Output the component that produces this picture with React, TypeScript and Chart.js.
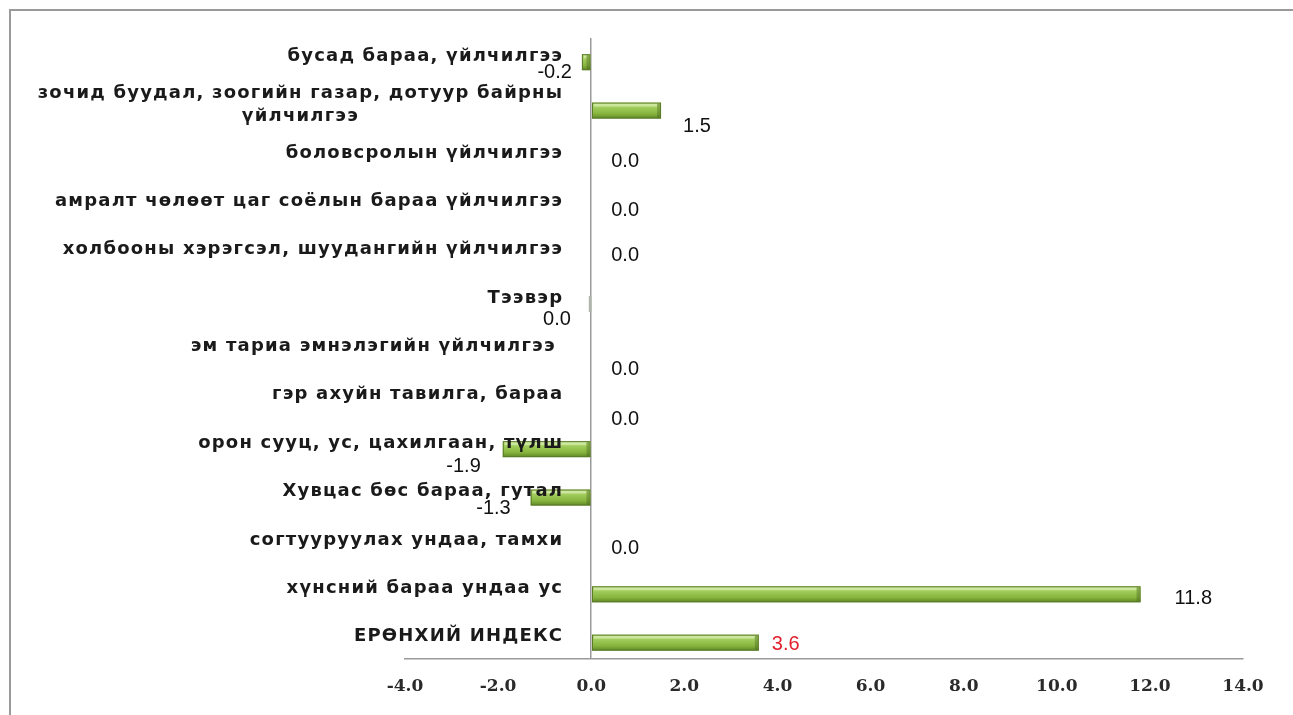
import React, { useEffect, useRef } from "react";
import { Chart, registerables } from "chart.js";

Chart.register(...registerables);

// ---- data ----
const categories: string[][] = [
  ["бусад бараа, үйлчилгээ"],
  ["зочид буудал, зоогийн газар, дотуур байрны", "үйлчилгээ"],
  ["боловсролын үйлчилгээ"],
  ["амралт чөлөөт цаг соёлын бараа үйлчилгээ"],
  ["холбооны хэрэгсэл, шуудангийн үйлчилгээ"],
  ["Тээвэр"],
  ["эм тариа эмнэлэгийн үйлчилгээ "],
  ["гэр ахуйн тавилга, бараа"],
  ["орон сууц, ус, цахилгаан, түлш"],
  ["Хувцас бөс бараа, гутал"],
  ["согтууруулах ундаа, тамхи"],
  ["хүнсний бараа ундаа ус"],
  ["ЕРӨНХИЙ ИНДЕКС"],
];
const values: number[] = [-0.2, 1.5, 0.0, 0.0, 0.0, -0.03, 0.0, -0.02, -1.9, -1.3, 0.0, 11.8, 3.6];
const xTickValues: number[] = [-4, -2, 0, 2, 4, 6, 8, 10, 12, 14];
const highlightIndex = 12;

// label placement tweaks (style only): [dx from bar end, dy from bar centre]
const valueLabelNudge: [number, number][] = [
  [-10, 10], [22, 16], [20, 3], [20, 3], [20, 0], [-19, 15], [20, 17],
  [21, 19], [-22, 17], [-20, 11], [20, 3], [34, 4], [13, 2],
];

const fmt = (v: number) => {
  const s = v.toFixed(1);
  return s === "-0.0" ? "0.0" : s;
};

const framePlugin = {
  id: "frame",
  beforeDraw(chart: any) {
    const ctx = chart.ctx;
    ctx.save();
    ctx.fillStyle = "#ffffff";
    ctx.fillRect(0, 0, chart.width, chart.height);
    ctx.strokeStyle = "#9a9a9a";
    ctx.lineWidth = 2;
    ctx.strokeRect(10, 10, chart.width + 20, chart.height + 20);
    ctx.restore();
  },
};

const barStylePlugin = {
  id: "barStyle",
  afterDatasetsDraw(chart: any) {
    const ctx = chart.ctx;
    const meta = chart.getDatasetMeta(0);
    ctx.save();
    meta.data.forEach((el: any) => {
      const { x, y, base, height } = el.getProps(["x", "y", "base", "height"], true);
      const left = Math.min(x, base);
      const right = Math.max(x, base);
      const top = y - height / 2;
      const w = right - left;
      if (w < 0.5) return;
      if (w < 4) {
        ctx.fillStyle = "#b0b4a8";
        ctx.fillRect(left - 1, top, w + 2, height);
        return;
      }
      const g = ctx.createLinearGradient(0, top, 0, top + height);
      g.addColorStop(0, "#b9db7a");
      g.addColorStop(0.3, "#a2cd5c");
      g.addColorStop(0.7, "#86b53e");
      g.addColorStop(1, "#5f8726");
      ctx.fillStyle = g;
      ctx.fillRect(left, top, w, height);
      ctx.fillStyle = "rgba(230,245,200,0.55)";
      ctx.fillRect(left + 2, top + 1, Math.max(0, w - 6), 3);
      ctx.fillStyle = "rgba(60,90,20,0.35)";
      ctx.fillRect(right - 4, top + 1, 3, height - 2);
      ctx.strokeStyle = "#5a7a2a";
      ctx.lineWidth = 1;
      ctx.strokeRect(left + 0.5, top + 0.5, w - 1, height - 1);
    });
    ctx.restore();
  },
};

const labelPlugin = {
  id: "labels",
  afterDraw(chart: any) {
    const ctx = chart.ctx;
    const xs = chart.scales.x;
    const ys = chart.scales.y;
    const zero = xs.getPixelForValue(0);
    ctx.save();
    ctx.font = "bold 18px 'DejaVu Sans'";
    (ctx as any).letterSpacing = "1.2px";
    ctx.fillStyle = "#1a1a1a";
    ctx.textBaseline = "middle";
    ctx.textAlign = "center";
    const lineH = 23;
    categories.forEach((lines, i) => {
      const cy = ys.getPixelForValue(i) - 6;
      const widest = Math.max(...lines.map((l) => ctx.measureText(l).width));
      const cx = zero - 28 - widest / 2;
      const y0 = cy - ((lines.length - 1) * lineH) / 2;
      lines.forEach((l, k) => ctx.fillText(l, cx, y0 + k * lineH));
    });
    (ctx as any).letterSpacing = "0px";
    ctx.font = "20px 'Liberation Sans'";
    values.forEach((v, i) => {
      const end = xs.getPixelForValue(v);
      const cy = ys.getPixelForValue(i);
      const [dx, dy] = valueLabelNudge[i];
      ctx.textAlign = dx >= 0 ? "left" : "right";
      ctx.fillStyle = i === highlightIndex ? "#e2202c" : "#111111";
      ctx.fillText(fmt(v), end + dx, cy + dy);
    });
    ctx.restore();
  },
};

export default function App() {
  const ref = useRef<HTMLCanvasElement | null>(null);
  useEffect(() => {
    if (!ref.current) return;
    const chart = new Chart(ref.current, {
      type: "bar",
      data: {
        datasets: [
          {
            data: values.map((v, i) => ({ x: v, y: i })),
            backgroundColor: "rgba(0,0,0,0)",
            borderWidth: 0,
            barThickness: 16,
          },
        ],
      },
      options: {
        indexAxis: "y",
        animation: false,
        responsive: false,
        layout: { padding: { left: 405, right: 50, top: 38, bottom: 0 } },
        plugins: { legend: { display: false }, tooltip: { enabled: false }, title: { display: false } },
        scales: {
          x: {
            type: "linear",
            min: -4,
            max: 14,
            afterBuildTicks: (axis: any) => {
              axis.ticks = xTickValues.map((v) => ({ value: v }));
            },
            ticks: {
              callback: (v: any) => Number(v).toFixed(1),
              font: { family: "'DejaVu Serif'", size: 17, weight: "bold" },
              color: "#2a2a2a",
              padding: 18,
            },
            grid: {
              drawTicks: false,
              color: (c: any) => (c.tick && c.tick.value === 0 ? "#9a9a9a" : "rgba(0,0,0,0)"),
              lineWidth: 1.5,
            },
            border: { display: true, color: "#9a9a9a", width: 1.5 },
          },
          y: {
            type: "linear",
            reverse: true,
            offset: false,
            bounds: "data",
            min: -0.5,
            max: 12.33,
            display: false,
          },
        },
      } as any,
      plugins: [framePlugin, barStylePlugin, labelPlugin],
    });
    return () => chart.destroy();
  }, []);
  return (
    <div style={{ position: "fixed", left: 0, top: 0, width: 1293, height: 715 }}>
      <canvas ref={ref} width={1293} height={715} />
    </div>
  );
}
